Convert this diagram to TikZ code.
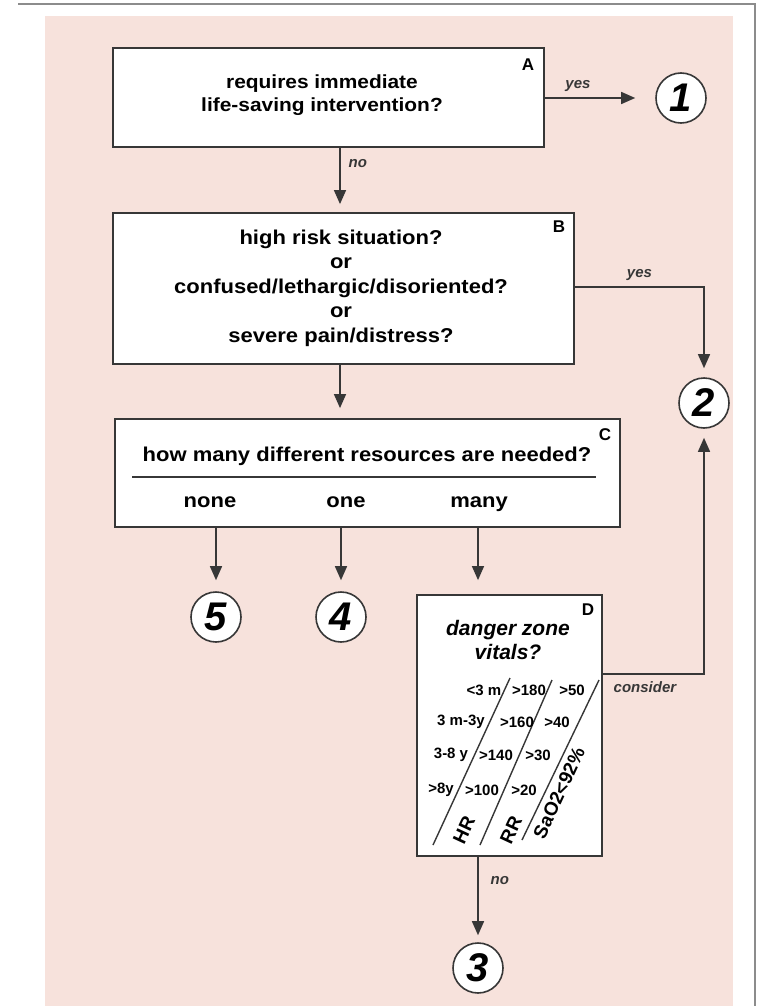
\documentclass[tikz,border=0pt]{standalone}
\usepackage{fontspec}
\setmainfont{Liberation Sans}
\newfontfamily\widefont{Liberation Sans}[FakeStretch=1.1]
\usetikzlibrary{arrows.meta,calc}
\definecolor{bgpink}{RGB}{247,226,220}
\definecolor{ink}{RGB}{55,55,55}
\definecolor{framegray}{RGB}{140,140,140}
\begin{document}
\begin{tikzpicture}[x=1pt,y=-1pt,
 box/.style={draw=ink,line width=1.8pt,fill=white,inner sep=0pt},
 num/.style={circle,draw=ink,line width=1.6pt,fill=white,minimum size=50pt,inner sep=0pt,font=\fontsize{40}{40}\selectfont\bfseries\itshape},
 arr/.style={draw=ink,line width=1.4pt,-{Triangle[length=14pt,width=12pt]}},
 ln/.style={draw=ink,line width=1.4pt},
 lab/.style={font=\fontsize{15}{15}\selectfont\bfseries\itshape,text=ink,inner sep=0pt},
 corner/.style={font=\fontsize{17}{17}\selectfont\bfseries,inner sep=0pt},
 txt/.style={font=\widefont\fontsize{20}{20}\selectfont\bfseries,align=center,inner sep=0pt},
 tbl/.style={font=\fontsize{15}{15}\selectfont\bfseries,inner sep=0pt},
 rot/.style={font=\fontsize{19}{19}\selectfont\bfseries,inner sep=0pt,rotate=65},
]
\useasboundingbox (0,0) rectangle (764,1006);
\fill[white] (0,0) rectangle (764,1006);
\fill[bgpink] (45,16) rectangle (733,1006);
\draw[framegray,line width=1.5pt] (18,4) -- (755,4) -- (755,1006);

% boxes
\node[box,minimum width=431pt,minimum height=99pt] (A) at (328.5,97.5) {};
\node[txt,font=\widefont\fontsize{19}{23}\selectfont\bfseries] (At) at (322,95) {requires immediate\\life-saving intervention?};
\node[corner] (Al) at (528,65) {A};

\node[box,minimum width=461pt,minimum height=151pt] (B) at (343.5,288.5) {};
\node[txt,font=\widefont\fontsize{20}{24.5}\selectfont\bfseries] (Bt) at (341,288) {high risk situation?\\or\\confused/lethargic/disoriented?\\or\\severe pain/distress?};
\node[corner] (Bl) at (559,227) {B};

\node[box,minimum width=505pt,minimum height=108pt] (C) at (367.5,473) {};
\node[txt] (Ct) at (367,456) {how many different resources are needed?};
\node[corner] (Cl) at (605,435) {C};
\coordinate (ul1) at (132,477);
\coordinate (ul2) at (596,477);
\draw[ln] (ul1) -- (ul2);
\node[txt,anchor=base] (none) at (210,507) {none};
\node[txt,anchor=base] (one) at (346,507) {one};
\node[txt,anchor=base] (many) at (479,507) {many};

\node[box,minimum width=185pt,minimum height=261pt] (D) at (509.5,725.5) {};
\node[corner] (Dl) at (588,610) {D};
\node[align=center,inner sep=0pt,font=\fontsize{21}{24}\selectfont\bfseries\itshape] (Dt) at (508,640) {danger zone\\vitals?};

% diagonal table in D
\coordinate (h1) at (510,678); \coordinate (h2) at (433,845);
\coordinate (r1) at (552,680); \coordinate (r2) at (480,845);
\coordinate (s1) at (599,680); \coordinate (s2) at (522,840);
\draw[ln] (h1) -- (h2);
\draw[ln] (r1) -- (r2);
\draw[ln] (s1) -- (s2);
\node[tbl] (t11) at (484,690) {<3 m};
\node[tbl] (t12) at (529,690) {>180};
\node[tbl] (t13) at (572,690) {>50};
\node[tbl] (t21) at (461,722) {3 m-3y};
\node[tbl] (t22) at (517,722) {>160};
\node[tbl] (t23) at (557,722) {>40};
\node[tbl] (t31) at (451,755) {3-8 y};
\node[tbl] (t32) at (496,755) {>140};
\node[tbl] (t33) at (538,755) {>30};
\node[tbl] (t41) at (441,790) {>8y};
\node[tbl] (t42) at (482,790) {>100};
\node[tbl] (t43) at (524,790) {>20};
\node[rot] (hr) at (464,830) {HR};
\node[rot] (rr) at (511,830) {RR};
\node[rot] (sao) at (559,793) {SaO2<92\%};

% outcome circles
\node[num] (c1) at (681,98) {1};
\node[num] (c2) at (704,403) {2};
\node[num] (c5) at (216,617) {5};
\node[num] (c4) at (341,617) {4};
\node[num] (c3) at (478,968) {3};

% connectors
\coordinate (xa) at (340,0);
\coordinate (xm) at (478,0);
\coordinate (yb) at (0,287);
\coordinate (yd) at (0,674);
\draw[arr,shorten >=8pt] (xa |- A.south) -- (xa |- B.north) node[lab,pos=0.24,anchor=west,xshift=8pt] {no};
\draw[arr,shorten >=20pt] (A.east |- c1) -- (c1.west) node[lab,pos=0.3,anchor=south,yshift=6pt] {yes};
\draw[arr,shorten >=9pt] (B.east |- yb) -| (c2.north) node[lab,pos=0.25,anchor=south,yshift=6pt] {yes};
\draw[arr,shorten >=10pt] (xa |- B.south) -- (xa |- C.north);
\draw[arr,shorten >=11pt] (c5 |- C.south) -- (c5.north);
\draw[arr,shorten >=11pt] (c4 |- C.south) -- (c4.north);
\draw[arr,shorten >=14pt] (xm |- C.south) -- (xm |- D.north);
\draw[arr,shorten >=9pt] (D.east |- yd) -| (c2.south) node[lab,pos=0.05,anchor=north west,yshift=-7pt] {consider};
\draw[arr,shorten >=7pt] (xm |- D.south) -- (c3.north) node[lab,pos=0.28,anchor=west,xshift=12pt] {no};
\end{tikzpicture}
\end{document}
